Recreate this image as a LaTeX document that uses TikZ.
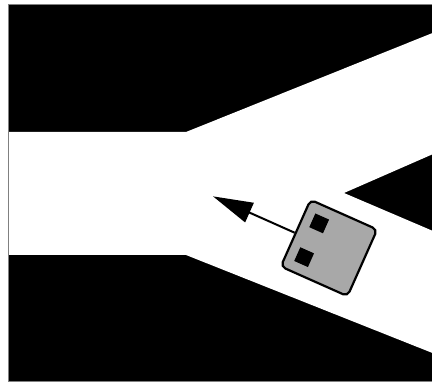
\documentclass[tikz,border=0pt]{standalone}
\usepackage{tikz}
\usetikzlibrary{arrows.meta}

\begin{document}
\begin{tikzpicture}[
  x=1bp, y=1bp,
  ground/.style={fill=black},
  road/.style={fill=white},
  frame/.style={draw=gray, line width=1bp},
  robot/.style={rectangle, draw, line width=2.2bp, fill=black!34, rounded corners=5bp, minimum size=73bp, inner sep=0pt},
  sensor/.style={rectangle, fill=black, minimum size=15bp, inner sep=0pt},
  heading/.style={-{Triangle[length=40bp, width=21bp]}, line width=2bp}]
  \useasboundingbox (0,0) rectangle (432,383);
  % Gelaende und Strasse
  \fill[ground] (8,2) rectangle (440,378);
  \fill[road] (8,251) -- (186,251) -- (440,353) -- (440,232) -- (344,190)
    -- (440,149) -- (440,27) -- (186,128) -- (8,128) -- cycle;
  \draw[frame] (440,378) -- (8,378) -- (8,2) -- (440,2);
  % Fahrzeug
  \begin{scope}[shift={(329,135)}, rotate=-24, transform shape]
    \node[robot] (car) at (0,0) {};
    \node[sensor] (sensL) at (-19,18.5) {};
    \node[sensor] (sensR) at (-19,-18.5) {};
    \coordinate (goal) at (-127,0);
    \draw[heading] (car.west) -- (goal);
  \end{scope}
\end{tikzpicture}
\end{document}
